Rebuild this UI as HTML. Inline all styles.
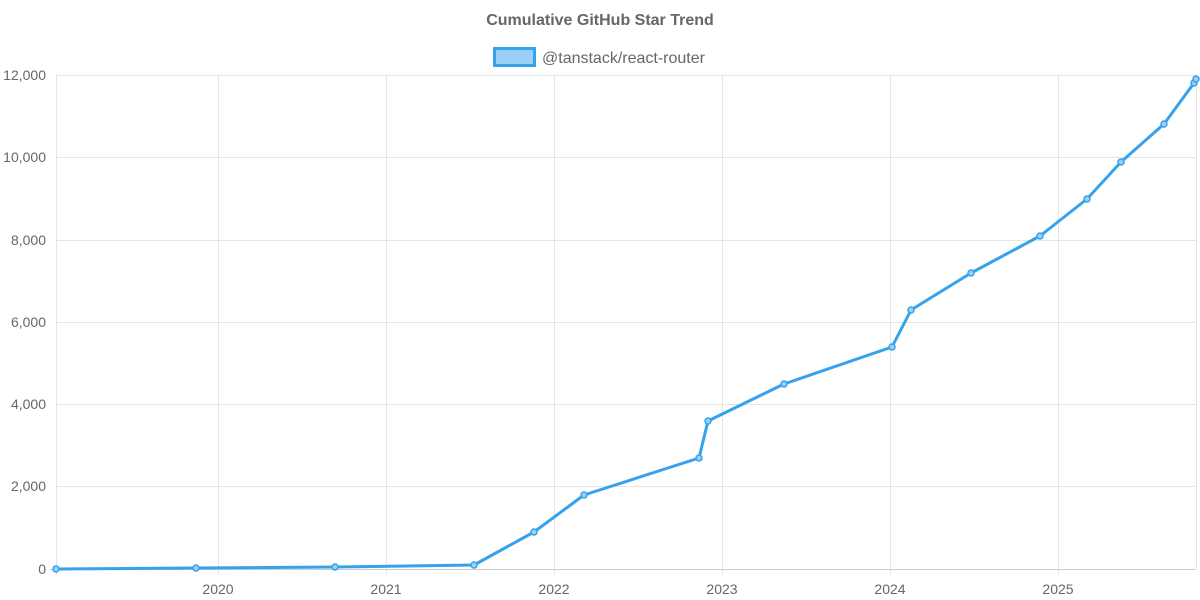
<!DOCTYPE html>
<html><head><meta charset="utf-8"><style>
body{margin:0;background:#fff;}
svg{display:block;font-family:"Liberation Sans",sans-serif;}
</style></head><body>
<svg width="1200" height="600" viewBox="0 0 1200 600">
<text x="600" y="25" text-anchor="middle" font-size="16" font-weight="bold" fill="#666">Cumulative GitHub Star Trend</text>
<rect x="494.5" y="48.5" width="40" height="17" fill="#9ad0f5" stroke="#36a2eb" stroke-width="3"/>
<text x="542" y="63" font-size="16" fill="#666">@tanstack/react-router</text>
<g stroke="#e5e5e5" stroke-width="1">
<line x1="56" y1="75.5" x2="1196" y2="75.5"/>
<line x1="56" y1="157.5" x2="1196" y2="157.5"/>
<line x1="56" y1="240.5" x2="1196" y2="240.5"/>
<line x1="56" y1="322.5" x2="1196" y2="322.5"/>
<line x1="56" y1="404.5" x2="1196" y2="404.5"/>
<line x1="56" y1="486.5" x2="1196" y2="486.5"/>
<line x1="56.5" y1="75" x2="56.5" y2="575"/>
<line x1="218.5" y1="75" x2="218.5" y2="575"/>
<line x1="386.5" y1="75" x2="386.5" y2="575"/>
<line x1="554.5" y1="75" x2="554.5" y2="575"/>
<line x1="722.5" y1="75" x2="722.5" y2="575"/>
<line x1="890.5" y1="75" x2="890.5" y2="575"/>
<line x1="1058.5" y1="75" x2="1058.5" y2="575"/>
<line x1="1196.5" y1="75" x2="1196.5" y2="569"/>
</g>
<line x1="50" y1="569.5" x2="1196" y2="569.5" stroke="#ccc"/>
<g font-size="14" fill="#666" text-anchor="end">
<text x="46" y="80">12,000</text>
<text x="46" y="162">10,000</text>
<text x="46" y="245">8,000</text>
<text x="46" y="327">6,000</text>
<text x="46" y="409">4,000</text>
<text x="46" y="491">2,000</text>
<text x="46" y="574">0</text>
</g>
<g font-size="14" fill="#666" text-anchor="middle">
<text x="218" y="594">2020</text>
<text x="386" y="594">2021</text>
<text x="554" y="594">2022</text>
<text x="722" y="594">2023</text>
<text x="890" y="594">2024</text>
<text x="1058" y="594">2025</text>
</g>
<polyline fill="none" stroke="#36a2eb" stroke-width="3" stroke-linejoin="round" points="56,569 196,568 335,567 474,565 534,532 584,495 699,458 708,421 784,384 892,347 911,310 971,273 1040,236 1087,199 1121,162 1164,124 1194,83 1196,79"/>
<g fill="#9ad0f5" stroke="#36a2eb" stroke-width="1.5">
<circle cx="56" cy="569" r="3"/><circle cx="196" cy="568" r="3"/><circle cx="335" cy="567" r="3"/><circle cx="474" cy="565" r="3"/><circle cx="534" cy="532" r="3"/><circle cx="584" cy="495" r="3"/><circle cx="699" cy="458" r="3"/><circle cx="708" cy="421" r="3"/><circle cx="784" cy="384" r="3"/><circle cx="892" cy="347" r="3"/><circle cx="911" cy="310" r="3"/><circle cx="971" cy="273" r="3"/><circle cx="1040" cy="236" r="3"/><circle cx="1087" cy="199" r="3"/><circle cx="1121" cy="162" r="3"/><circle cx="1164" cy="124" r="3"/><circle cx="1194" cy="83" r="3"/><circle cx="1196" cy="79" r="3"/>
</g>
</svg>
</body></html>
